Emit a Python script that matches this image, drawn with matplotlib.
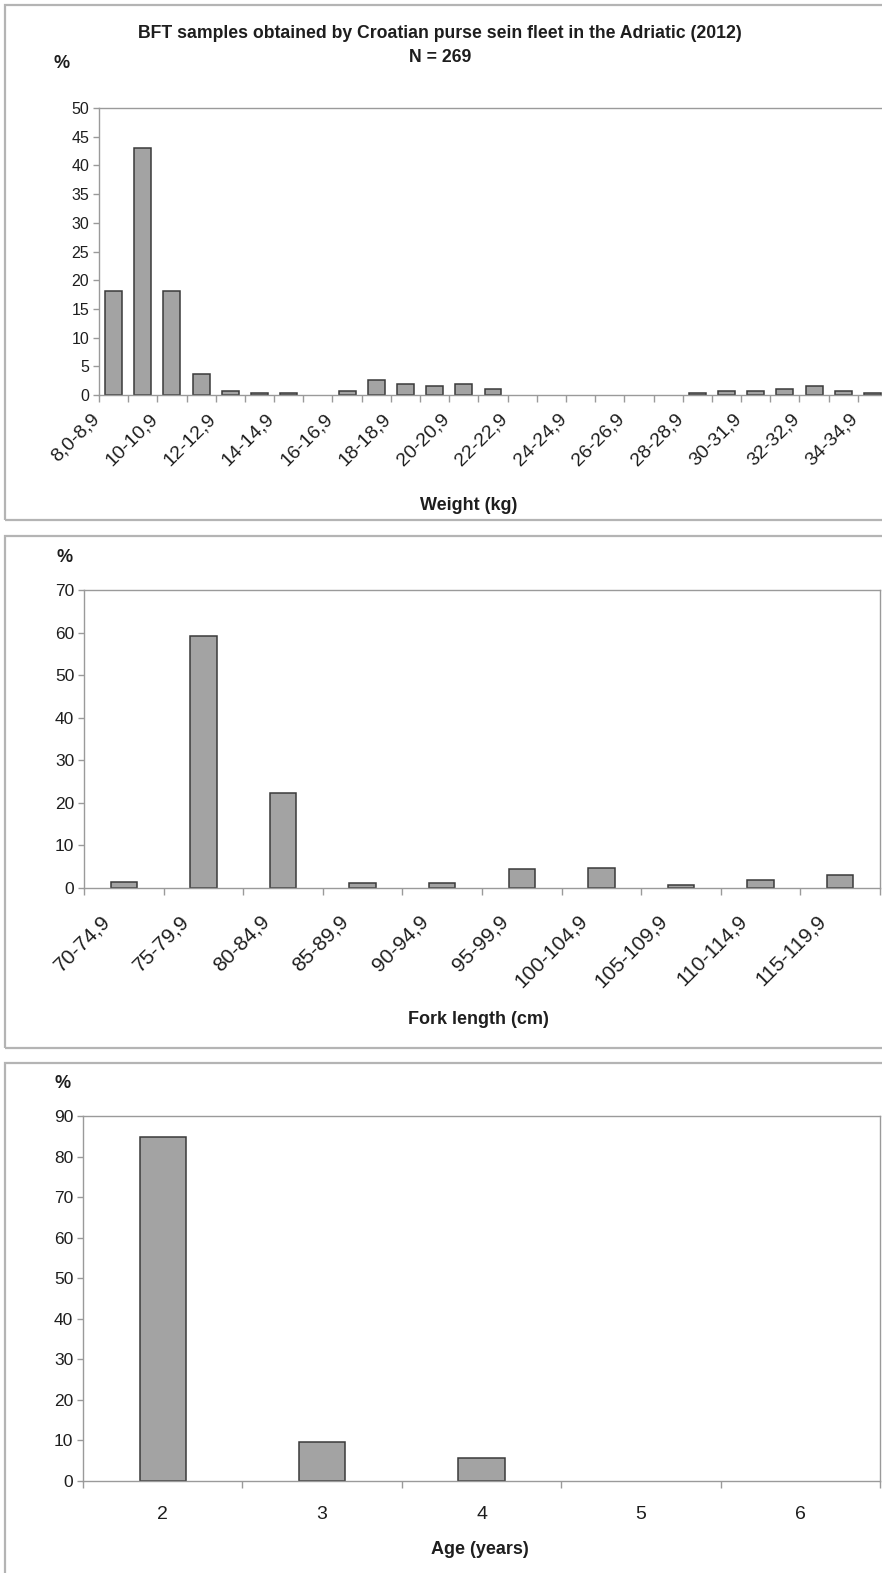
import matplotlib
matplotlib.use("Agg")
import matplotlib.pyplot as plt
import numpy as np
from matplotlib.patches import Rectangle
from matplotlib.transforms import ScaledTranslation

plt.rcParams["font.family"] = ["Liberation Sans", "DejaVu Sans"]

W, H = 882, 1573

# weight classes (kg), % of N = 269
weight_labels = ["8,0-8,9", "9-9,9", "10-10,9", "11-11,9", "12-12,9", "13-13,9", "14-14,9",
                 "15-15,9", "16-16,9", "17-17,9", "18-18,9", "19-19,9", "20-20,9", "21-21,9",
                 "22-22,9", "23-23,9", "24-24,9", "25-25,9", "26-26,9", "27-27,9", "28-28,9",
                 "29-29,9", "30-31,9", "31-31,9", "32-32,9", "33-33,9", "34-34,9"]
weight_pct = [18.2, 43.1, 18.2, 3.7, 0.7, 0.4, 0.4, 0.0, 0.7, 2.6, 1.9, 1.5, 1.9, 1.1,
              0.0, 0.0, 0.0, 0.0, 0.0, 0.0, 0.4, 0.7, 0.7, 1.1, 1.5, 0.7, 0.4]

# fork length classes (cm)
length_labels = ["70-74,9", "75-79,9", "80-84,9", "85-89,9", "90-94,9", "95-99,9",
                 "100-104,9", "105-109,9", "110-114,9", "115-119,9"]
length_pct = [1.5, 59.1, 22.3, 1.1, 1.1, 4.5, 4.8, 0.7, 1.9, 3.0]

# age (years)
age_labels = ["2", "3", "4", "5", "6"]
age_pct = [84.8, 9.7, 5.6, 0.0, 0.0]

BAR = "#a3a3a3"
EDGE = "#3a3a3a"
AXC = "#9a9a9a"
TXT = "#1e1e1e"

fig = plt.figure(figsize=(W / 100, H / 100), dpi=100)


def px_axes(l, t, r, b):
    return fig.add_axes([l / W, 1 - b / H, (r - l) / W, (b - t) / H])


def ftext(x, y, s, **kw):
    fig.text(x / W, 1 - y / H, s, ha="center", va="center", color=TXT, **kw)


def panel_box(t, b):
    fig.add_artist(Rectangle((5 / W, 1 - b / H), 900 / W, (b - t) / H, transform=fig.transFigure,
                             fill=False, ec="#b4b4b4", lw=1.6))


def draw_bars(ax, values, width):
    vals = np.asarray(values)
    x = np.arange(len(vals))
    keep = vals > 0
    ax.bar(x[keep], vals[keep], width=width, color=BAR, edgecolor=EDGE, linewidth=1.1)


def style(ax, n, ymax, ystep, ysize):
    ax.set_xlim(-0.5, n - 0.5)
    ax.set_ylim(0, ymax)
    ax.set_yticks(np.arange(0, ymax + 1, ystep))
    for s in ax.spines.values():
        s.set_color(AXC)
        s.set_linewidth(1.0)
    ax.tick_params(axis="y", length=4, width=1, color=AXC, labelsize=ysize, labelcolor=TXT, pad=3)
    ax.set_xticks(np.arange(n + 1) - 0.5, minor=True)
    ax.tick_params(axis="x", which="minor", length=5, width=1, color=AXC)
    ax.tick_params(axis="x", which="major", length=0, labelcolor=TXT)


def shift_labels(ax, dx, dy):
    off = ScaledTranslation(dx / 100, -dy / 100, fig.dpi_scale_trans)
    for lab in ax.get_xticklabels():
        lab.set_transform(lab.get_transform() + off)


panel_box(5, 520)
panel_box(536, 1048)
panel_box(1063, 1600)

# weight
ax1 = px_axes(99, 108, 887, 395)
draw_bars(ax1, weight_pct, 0.58)
style(ax1, len(weight_pct), 50, 5, 11.5)
ax1.set_xticks(np.arange(0, len(weight_pct), 2))
ax1.set_xticklabels(weight_labels[::2], rotation=45, ha="right", va="center",
                    rotation_mode="anchor", fontsize=14)
ax1.tick_params(axis="x", which="major", pad=0)
shift_labels(ax1, -17, 21)
ftext(440, 33, "BFT samples obtained by Croatian purse sein fleet in the Adriatic (2012)",
      fontsize=12.7, fontweight="bold")
ftext(440, 57, "N = 269", fontsize=12.7, fontweight="bold")
ftext(62, 63, "%", fontsize=13, fontweight="bold")
ftext(469, 505, "Weight (kg)", fontsize=13, fontweight="bold")

# fork length
ax2 = px_axes(84, 590, 880, 888)
draw_bars(ax2, length_pct, 0.33)
style(ax2, len(length_pct), 70, 10, 12.5)
ax2.set_xticks(np.arange(len(length_pct)))
ax2.set_xticklabels(length_labels, rotation=45, ha="right", va="center",
                    rotation_mode="anchor", fontsize=15)
ax2.tick_params(axis="x", which="major", pad=0)
shift_labels(ax2, -17, 30)
ftext(65, 557, "%", fontsize=13, fontweight="bold")
ftext(478, 1020, "Fork length (cm)", fontsize=13, fontweight="bold")

# age
ax3 = px_axes(83, 1116, 880, 1481)
draw_bars(ax3, age_pct, 0.29)
style(ax3, len(age_pct), 90, 10, 12.5)
ax3.set_xticks(np.arange(len(age_pct)))
ax3.set_xticklabels(age_labels, fontsize=14)
ax3.tick_params(axis="x", which="major", pad=18)
ftext(63, 1084, "%", fontsize=13, fontweight="bold")
ftext(480, 1549, "Age (years)", fontsize=13, fontweight="bold")

fig.savefig("out.png", dpi=100)
